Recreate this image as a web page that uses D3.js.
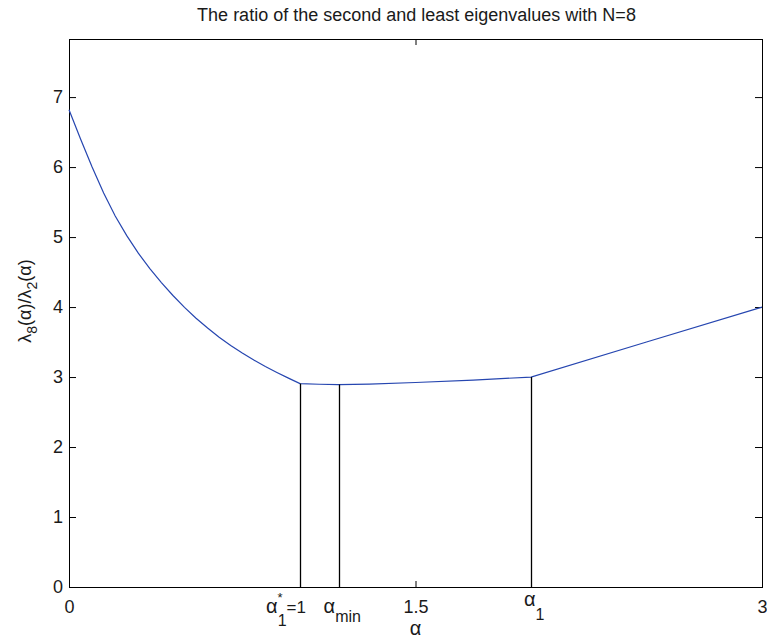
<!DOCTYPE html>
<html>
<head>
<meta charset="utf-8">
<script src="https://cdn.jsdelivr.net/npm/d3@7/dist/d3.min.js"></script>
<style>
  body { margin: 0; background: #fff; }
  text { font-family: "Liberation Sans", Arial, Helvetica, sans-serif; fill: #1a1a1a; }
</style>
</head>
<body>
<svg id="chart" width="767" height="641"></svg>
<script>
// Ratio λ8(α)/λ2(α) sampled along α
const alphaValues = [0, 0.05, 0.1, 0.15, 0.2, 0.25, 0.3, 0.35, 0.4, 0.45, 0.5,
                     0.55, 0.6, 0.65, 0.7, 0.75, 0.8, 0.85, 0.9, 0.95, 1.0,
                     1.083, 1.167, 1.3, 1.5, 1.75, 2.0, 2.5, 3.0];
const ratioValues = [6.82, 6.40, 6.00, 5.63, 5.30, 5.02, 4.77, 4.55, 4.35, 4.165, 3.995,
                     3.84, 3.70, 3.57, 3.452, 3.343, 3.243, 3.151, 3.066, 2.985, 2.906,
                     2.897, 2.893, 2.900, 2.922, 2.956, 3.0, 3.5, 4.0];

// Axis ticks
const xTickValues = [0, 1.5, 3];
const xTickLabels = ["0", "1.5", "3"];
const yTickValues = [0, 1, 2, 3, 4, 5, 6, 7];

// Special points α*₁ = 1, α_min and α₁ with their ratio values
const markerAlpha = [1, 1.167, 2];
const markerRatio = [2.906, 2.893, 3.0];

const titleText = "The ratio of the second and least eigenvalues with N=8";

const svg = d3.select("#chart");
svg.append("rect").attr("width", 767).attr("height", 641).attr("fill", "#fff");

const x = d3.scaleLinear().domain([0, 3]).range([69, 762]);
const y = d3.scaleLinear().domain([0, 7.83]).range([587, 39]);

const fontSize = 18;
const greekSize = 20;

// Bottom axis (ticks point inward)
const gx = svg.append("g").attr("transform", `translate(0,${y(0)})`)
  .call(d3.axisBottom(x).tickValues(xTickValues)
    .tickFormat((d, i) => xTickLabels[i])
    .tickSizeInner(-6).tickSizeOuter(0).tickPadding(13));
// Top axis, ticks only
const gxt = svg.append("g").attr("transform", `translate(0,${y(7.83)})`)
  .call(d3.axisTop(x).tickValues(xTickValues).tickFormat("")
    .tickSizeInner(-6).tickSizeOuter(0));
// Left axis
const gy = svg.append("g").attr("transform", `translate(${x(0)},0)`)
  .call(d3.axisLeft(y).tickValues(yTickValues).tickFormat(d3.format("d"))
    .tickSizeInner(-7).tickSizeOuter(0).tickPadding(6));
// Right axis, ticks only
const gyr = svg.append("g").attr("transform", `translate(${x(3)},0)`)
  .call(d3.axisRight(y).tickValues(yTickValues).tickFormat("")
    .tickSizeInner(-7).tickSizeOuter(0));

[gx, gxt, gy, gyr].forEach(g => {
  g.select(".domain").remove();
  g.selectAll(".tick line").attr("stroke", "#000");
  g.selectAll("text").attr("font-size", fontSize).attr("fill", "#1a1a1a")
    .attr("font-family", '"Liberation Sans", Arial, sans-serif');
});

// Axes box
svg.append("rect")
  .attr("x", x(0) + 0.5).attr("y", y(7.83) + 0.5)
  .attr("width", x(3) - x(0)).attr("height", y(0) - y(7.83))
  .attr("fill", "none").attr("stroke", "#000").attr("stroke-width", 1);

// Ratio curve
const line = d3.line().x((d, i) => x(alphaValues[i])).y(d => y(d));
svg.append("path").datum(ratioValues)
  .attr("d", line)
  .attr("fill", "none").attr("stroke", "#2646b0").attr("stroke-width", 1.2);

// Vertical markers at the special α values
svg.selectAll("line.marker").data(markerAlpha).join("line")
  .attr("class", "marker")
  .attr("x1", d => Math.round(x(d)) + 0.5).attr("x2", d => Math.round(x(d)) + 0.5)
  .attr("y1", y(0)).attr("y2", (d, i) => y(markerRatio[i]))
  .attr("stroke", "#000").attr("stroke-width", 1.3);

// Marker labels
const lab1 = svg.append("text").attr("x", x(markerAlpha[0]) - 34).attr("y", 613)
  .attr("font-size", greekSize);
lab1.append("tspan").text("α");
lab1.append("tspan").attr("font-size", 13).attr("dy", -11).text("*");
lab1.append("tspan").attr("font-size", 16).attr("dx", -5).attr("dy", 24).text("1");
lab1.append("tspan").attr("font-size", 17).attr("dy", -13).text("=1");

const lab2 = svg.append("text").attr("x", x(markerAlpha[1]) - 15).attr("y", 613)
  .attr("font-size", greekSize);
lab2.append("tspan").text("α");
lab2.append("tspan").attr("font-size", 16).attr("dy", 9).text("min");

const lab3 = svg.append("text").attr("x", x(markerAlpha[2]) - 7).attr("y", 606)
  .attr("font-size", greekSize);
lab3.append("tspan").text("α");
lab3.append("tspan").attr("font-size", 16).attr("dy", 14).text("1");

// Axis labels
svg.append("text").attr("x", x(1.5)).attr("y", 635)
  .attr("text-anchor", "middle").attr("font-size", greekSize).text("α");

const ylab = svg.append("text")
  .attr("transform", "translate(31,301) rotate(-90)")
  .attr("text-anchor", "middle").attr("font-size", fontSize);
ylab.append("tspan").text("λ");
ylab.append("tspan").attr("font-size", 14).attr("dy", 6).text("8");
ylab.append("tspan").attr("dy", -6).text("(α)/λ");
ylab.append("tspan").attr("font-size", 14).attr("dy", 6).text("2");
ylab.append("tspan").attr("dy", -6).text("(α)");

// Title
svg.append("text").attr("x", (x(0) + x(3)) / 2 + 1).attr("y", 21)
  .attr("text-anchor", "middle").attr("font-size", fontSize).text(titleText);
</script>
</body>
</html>
